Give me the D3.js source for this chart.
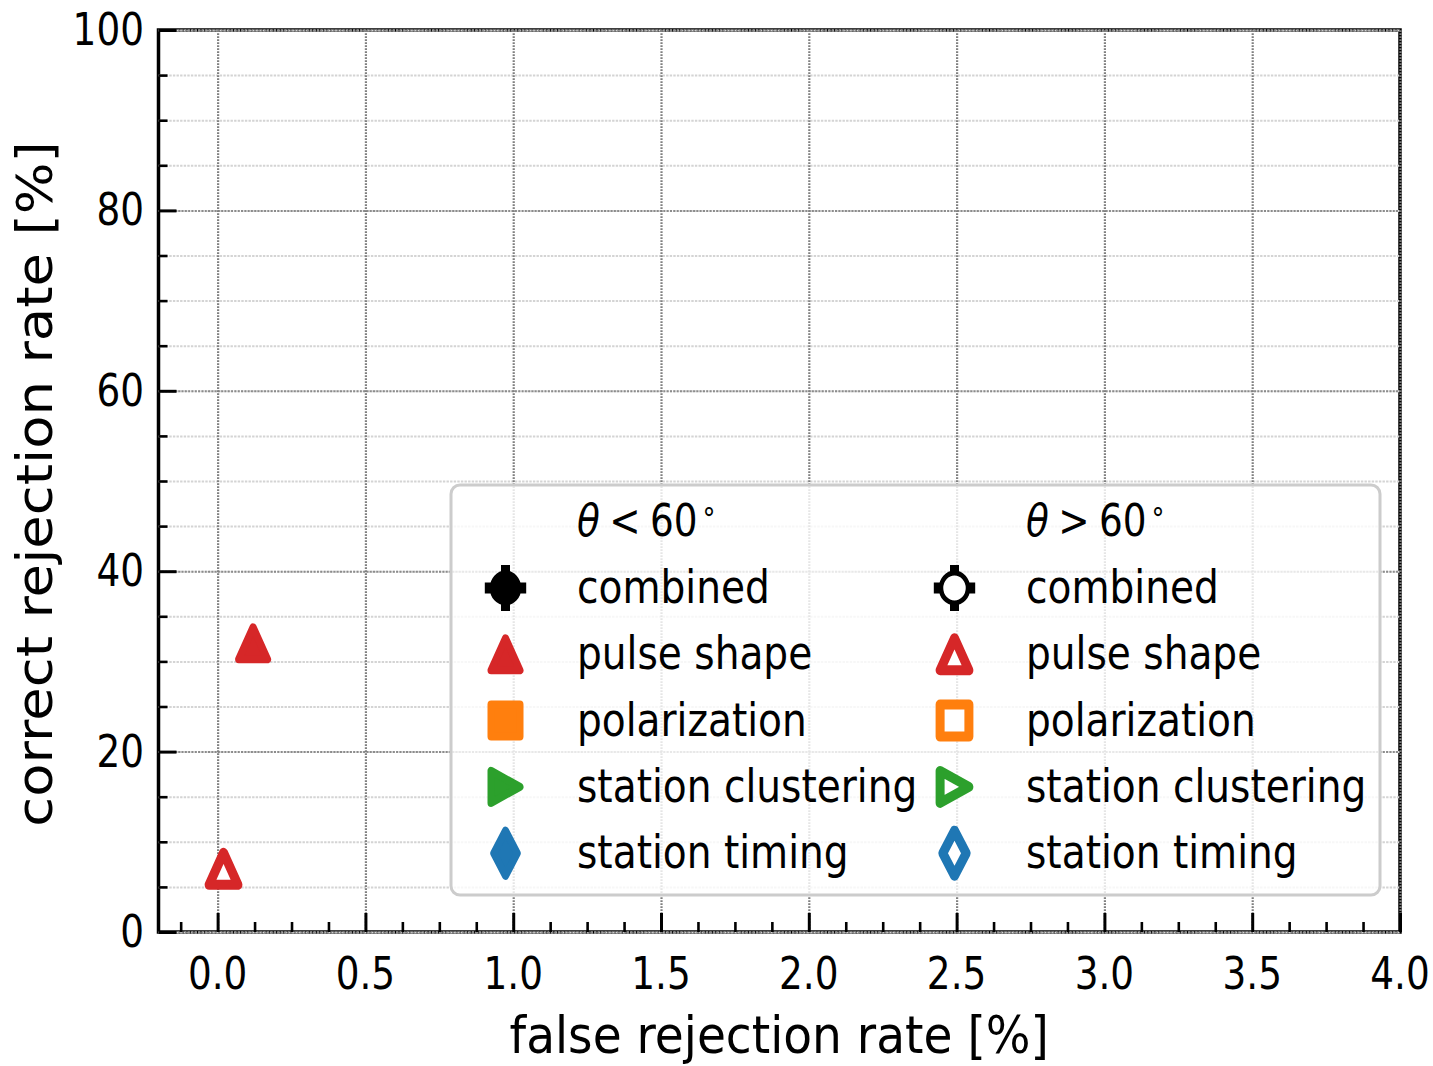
<!DOCTYPE html>
<html>
<head>
<meta charset="utf-8">
<script src="https://cdn.jsdelivr.net/npm/d3@7/dist/d3.min.js"></script>
<style>
  html, body { margin: 0; padding: 0; background: #fff; }
  text { font-family: "DejaVu Sans", sans-serif; fill: #000; }
</style>
</head>
<body>
<svg id="chart" width="1433" height="1066"></svg>
<script>
// ---- data ----
const methods = ["combined", "pulse shape", "polarization", "station clustering", "station timing"];
const methodColors = ["#000000", "#d62728", "#ff7f0e", "#2ca02c", "#1f77b4"];
const methodSymbols = ["errcircle", "triangleUp", "square", "triangleRight", "thinDiamond"];
const zenithGroups = ["<", ">"];           // θ < 60°, θ > 60°
// [false rejection rate %, correct rejection rate %] per method
const pointsBelow60 = [[], [[0.12, 32]], [], [], []];
const pointsAbove60 = [[], [[0.02, 7]], [], [], []];

const xMajorTicks = [0.0, 0.5, 1.0, 1.5, 2.0, 2.5, 3.0, 3.5, 4.0];
const xTickLabels = ["0.0", "0.5", "1.0", "1.5", "2.0", "2.5", "3.0", "3.5", "4.0"];
const yMajorTicks = [0, 20, 40, 60, 80, 100];
const yTickLabels = ["0", "20", "40", "60", "80", "100"];

// ---- layout ----
const svg = d3.select("#chart");
const plotLeft = 158.5, plotRight = 1400, plotTop = 30, plotBottom = 932;
const SX = 0.9;      // horizontal scale of markers
const SX_TEXT = 0.85; // horizontal scale of tick and legend glyphs

const x = d3.scaleLinear().domain([-0.2, 4.0]).range([plotLeft, plotRight]);
const y = d3.scaleLinear().domain([0, 100]).range([plotBottom, plotTop]);

const xMinorTicks = d3.range(-0.125, 4.0, 0.125).filter(v => Math.abs(v * 2 - Math.round(v * 2)) > 1e-6);
const yMinorTicks = d3.range(0, 101, 5).filter(v => v % 20 !== 0);
const yAllTicks = d3.range(0, 101, 5);

// spines
svg.append("rect")
  .attr("x", plotLeft).attr("y", plotTop).attr("width", plotRight - plotLeft).attr("height", plotBottom - plotTop)
  .attr("fill", "none").attr("stroke", "#000").attr("stroke-width", 3.5);

// grid: minor horizontal, then major
const gMinor = svg.append("g").attr("transform", `translate(${plotLeft},0)`)
  .call(d3.axisLeft(y).tickValues(yAllTicks).tickSize(-(plotRight - plotLeft)).tickFormat(""));
gMinor.select(".domain").remove();
gMinor.selectAll("line").attr("stroke", "#d4d4d4").attr("stroke-width", 2).attr("stroke-dasharray", "2.4,1.2");

const gMajY = svg.append("g").attr("transform", `translate(${plotLeft},0)`)
  .call(d3.axisLeft(y).tickValues(yMajorTicks).tickSize(-(plotRight - plotLeft)).tickFormat(""));
gMajY.select(".domain").remove();
gMajY.selectAll("line").attr("stroke", "#8c8c8c").attr("stroke-width", 2).attr("stroke-dasharray", "2,1.3");

const gMajX = svg.append("g").attr("transform", `translate(0,${plotBottom})`)
  .call(d3.axisBottom(x).tickValues(xMajorTicks).tickSize(-(plotBottom - plotTop)).tickFormat(""));
gMajX.select(".domain").remove();
gMajX.selectAll("line").attr("stroke", "#7f7f7f").attr("stroke-width", 2.2).attr("stroke-dasharray", "1.8,1.2");

// inward tick marks
function tickAxis(axis, values, size, width, transform) {
  const g = svg.append("g").attr("transform", transform)
    .call(axis.tickValues(values).tickSize(-size).tickFormat(""));
  g.select(".domain").remove();
  g.selectAll("line").attr("stroke", "#000").attr("stroke-width", width);
}
tickAxis(d3.axisBottom(x), xMajorTicks, 19, 3, `translate(0,${plotBottom})`);
tickAxis(d3.axisBottom(x), xMinorTicks, 10, 2.6, `translate(0,${plotBottom})`);
tickAxis(d3.axisLeft(y), yMajorTicks, 18, 3, `translate(${plotLeft},0)`);
tickAxis(d3.axisLeft(y), yMinorTicks, 9, 2.6, `translate(${plotLeft},0)`);

// tick labels
svg.append("g").selectAll("text").data(xMajorTicks).join("text")
  .attr("transform", d => `translate(${x(d)},989) scale(${SX_TEXT},1)`)
  .attr("text-anchor", "middle").attr("font-size", 44)
  .text((d, i) => xTickLabels[i]);
svg.append("g").selectAll("text").data(yMajorTicks).join("text")
  .attr("transform", d => `translate(144,${y(d) + 15}) scale(${SX_TEXT},1)`)
  .attr("text-anchor", "end").attr("font-size", 44)
  .text((d, i) => yTickLabels[i]);

// axis titles
svg.append("text")
  .attr("transform", `translate(${(plotLeft + plotRight) / 2},1053) scale(0.9,1)`)
  .attr("text-anchor", "middle").attr("font-size", 52.3)
  .text("false rejection rate [%]");
svg.append("text")
  .attr("transform", `translate(52,${(plotTop + plotBottom) / 2 + 3}) scale(0.9,1) rotate(-90)`)
  .attr("text-anchor", "middle").attr("font-size", 54.5)
  .text("correct rejection rate [%]");

// ---- markers ----
const markerPaths = {
  triangleUp: "M0,-16L16,16L-16,16Z",
  triangleRight: "M16,0L-16,-16L-16,16Z",
  square: "M-16,-16H16V16H-16Z",
  thinDiamond: "M0,-22.5L13,0L0,22.5L-13,0Z"
};
function drawMarker(parent, cx, cy, symbol, color, filled) {
  const g = parent.append("g").attr("transform", `translate(${cx},${cy}) scale(${SX},1)`);
  if (symbol === "errcircle") {
    g.append("circle").attr("r", 15)
      .attr("fill", filled ? color : "#fff").attr("stroke", color).attr("stroke-width", 5);
    [[-5, -23, 10, 7], [-5, 16, 10, 7], [-23, -5.5, 7, 11], [16, -5.5, 7, 11]].forEach(r => {
      g.append("rect").attr("x", r[0]).attr("y", r[1]).attr("width", r[2]).attr("height", r[3]).attr("fill", color);
    });
  } else {
    g.append("path").attr("d", markerPaths[symbol])
      .attr("fill", filled ? color : "#fff")
      .attr("stroke", color).attr("stroke-width", filled ? 8 : 10)
      .attr("stroke-linejoin", "round");
  }
}

// data points
const gPts = svg.append("g");
[pointsBelow60, pointsAbove60].forEach((set, gi) => {
  set.forEach((pts, mi) => {
    pts.forEach(p => drawMarker(gPts, x(p[0]), y(p[1]), methodSymbols[mi], methodColors[mi], gi === 0));
  });
});

// ---- legend ----
const lg = svg.append("g");
lg.append("rect").attr("x", 451).attr("y", 485).attr("width", 929).attr("height", 410).attr("rx", 9)
  .attr("fill", "#fff").attr("fill-opacity", 0.8).attr("stroke", "#cccccc").attr("stroke-width", 3);

const colMarkerX = [505.5, 954.5], colTextX = [577, 1026];
const rowBase = 603, rowStep = 66.3;
zenithGroups.forEach((op, gi) => {
  const t = lg.append("text")
    .attr("transform", `translate(${colTextX[gi]},536) scale(${SX_TEXT},1)`)
    .attr("font-size", 44);
  t.append("tspan").attr("font-style", "italic").text("θ");
  t.append("tspan").attr("dx", 11).text(op);
  t.append("tspan").attr("dx", 11).text("60");
  t.append("tspan").attr("dx", 4).attr("dy", -15).attr("font-size", 30).text("∘");
  methods.forEach((m, mi) => {
    const by = rowBase + mi * rowStep;
    drawMarker(lg, colMarkerX[gi], by - 15, methodSymbols[mi], methodColors[mi], gi === 0);
    lg.append("text")
      .attr("transform", `translate(${colTextX[gi]},${by}) scale(${SX_TEXT},1)`)
      .attr("font-size", 46).text(m);
  });
});
</script>
</body>
</html>
